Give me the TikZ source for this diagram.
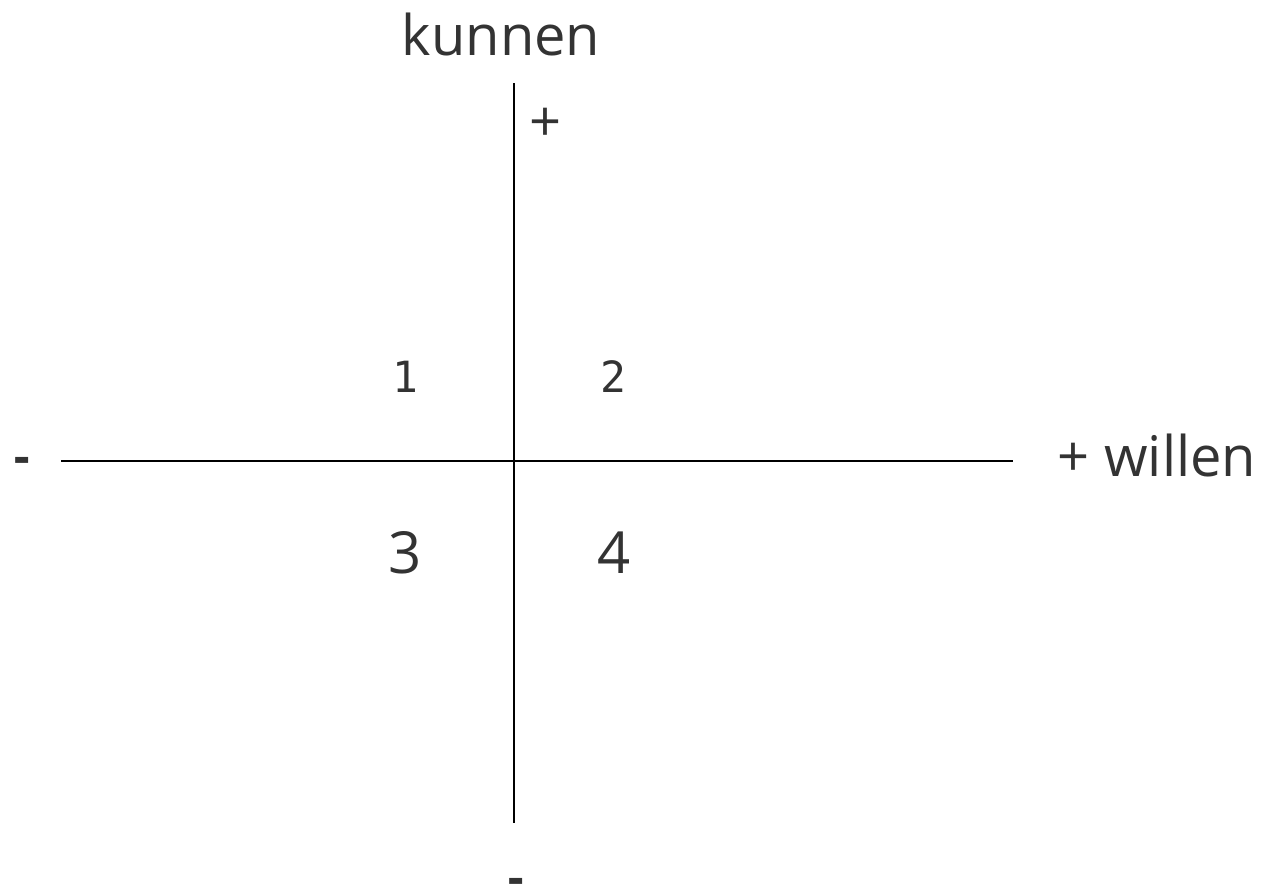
\documentclass[tikz,border=0pt]{standalone}
\usepackage{fontspec}
\setmainfont{Open Sans}
\newfontfamily\monofnt{DejaVu Sans Mono}
\definecolor{txt}{HTML}{333333}
\begin{document}
\begin{tikzpicture}[x=1pt,y=-1pt,
  lbl/.style={inner sep=0pt,text=txt,font=\fontsize{56}{60}\selectfont},
  num/.style={inner sep=0pt,text=txt,font=\fontsize{58}{60}\selectfont},
  mnum/.style={inner sep=0pt,text=txt,font=\monofnt\fontsize{43}{46}\selectfont},
  sgn/.style={inner sep=0pt,text=txt,font=\fontsize{56}{60}\selectfont},
  minussign/.style={inner sep=0pt,text=txt,font=\monofnt\bfseries\fontsize{42}{44}\selectfont},
  axis/.style={line width=2.4pt,black}]
\useasboundingbox (0,0) rectangle (1270,889);
\coordinate (top) at (514,83);
\coordinate (bot) at (514,823);
\coordinate (left) at (61,461);
\coordinate (right) at (1013,461);
\draw[axis] (top) -- (bot);
\draw[axis] (left) -- (right);
\node[lbl,anchor=base] (kunnen) at (501,55) {kunnen};
\node[lbl,anchor=base] (willen) at (1157,476) {+ willen};
\node[sgn] (plus) at (546,125) {+};
\node[minussign,anchor=base] (mleft) at (22,472) {-};
\node[minussign,anchor=base] (mbot) at (516,893) {-};
\node[mnum,anchor=base] (q1) at (405,392) {1};
\node[mnum,anchor=base] (q2) at (613,392) {2};
\node[num,anchor=base] (q3) at (405,573) {3};
\node[num,anchor=base] (q4) at (614,573) {4};
\end{tikzpicture}
\end{document}
